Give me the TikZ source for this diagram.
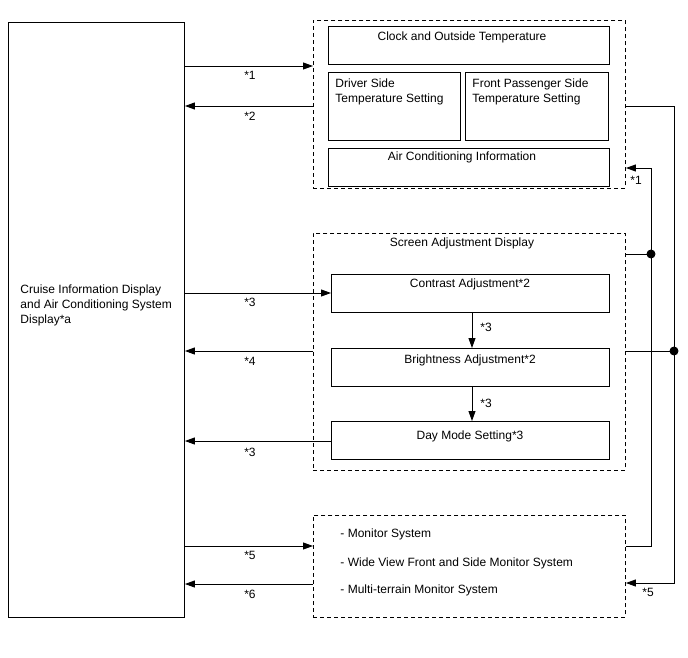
\documentclass[tikz,border=0pt]{standalone}
\usepackage{fontspec}
\setmainfont{Liberation Sans}
\usetikzlibrary{arrows.meta,calc}
\begin{document}
\begin{tikzpicture}[x=1pt,y=-1pt,
  font=\fontsize{12}{15}\selectfont,
  line width=0.9pt,
  box/.style={draw, rectangle, inner sep=0pt, anchor=north west},
  grp/.style={draw, rectangle, inner sep=0pt, anchor=north west, dash pattern=on 4pt off 3pt},
  arr/.style={-{Triangle[length=10pt,width=7pt]}},
  lbl/.style={inner sep=0pt},
  dotn/.style={circle, fill, draw, inner sep=0pt, minimum size=8pt}
]
\useasboundingbox (0,0) rectangle (688,658);
% left box
\node[box, minimum width=176pt, minimum height=595pt] (left) at (8,22) {};
\node[lbl, anchor=west, align=left] (lefttxt) at (20,305) {Cruise Information Display\\and Air Conditioning System\\Display*a};

% top group
\node[grp, minimum width=312pt, minimum height=168pt] (topg) at (313,20) {};
\node[box, minimum width=281pt, minimum height=38pt] (clock) at (328,26) {};
\node[lbl] (clocktxt) at (462,37) {Clock and Outside Temperature};
\node[box, minimum width=132pt, minimum height=68pt] (driver) at (328,72) {};
\node[lbl, anchor=north west, align=left] (drivertxt) at (335,78) {Driver Side\\Temperature Setting};
\node[box, minimum width=143pt, minimum height=68pt] (pass) at (465,72) {};
\node[lbl, anchor=north west, align=left] (passtxt) at (472,78) {Front Passenger Side\\Temperature Setting};
\node[box, minimum width=281pt, minimum height=38pt] (air) at (328,148) {};
\node[lbl] (airtxt) at (462,157) {Air Conditioning Information};

% screen adjustment group
\node[grp, minimum width=312pt, minimum height=237pt] (scrg) at (313,233) {};
\node[lbl] (scrtxt) at (462,243) {Screen Adjustment Display};
\node[box, minimum width=278pt, minimum height=38pt] (contrast) at (331,274) {};
\node[lbl] (contrasttxt) at (470,284) {Contrast Adjustment*2};
\node[box, minimum width=278pt, minimum height=38pt] (bright) at (331,348) {};
\node[lbl] (brighttxt) at (470,360) {Brightness Adjustment*2};
\node[box, minimum width=278pt, minimum height=38pt] (day) at (331,421) {};
\node[lbl] (daytxt) at (470,436) {Day Mode Setting*3};

% bottom group
\node[grp, minimum width=312pt, minimum height=102pt] (botg) at (313,515) {};
\node[lbl, anchor=west] (m1) at (340,534) {- Monitor System};
\node[lbl, anchor=west] (m2) at (340,563) {- Wide View Front and Side Monitor System};
\node[lbl, anchor=west] (m3) at (340,590) {- Multi-terrain Monitor System};

% left arrows
\draw[arr] (left.east |- 0,66) -- (topg.west |- 0,66);
\node[lbl] (l1) at (250,75) {*1};
\draw[arr] (topg.west |- 0,106) -- (left.east |- 0,106);
\node[lbl] (l2) at (250,116) {*2};
\draw[arr] (left.east |- 0,293) -- (contrast.west |- 0,293);
\node[lbl] (l3) at (250,302) {*3};
\draw[arr] (scrg.west |- 0,351) -- (left.east |- 0,351);
\node[lbl] (l4) at (250,361) {*4};
\draw[arr] (day.west |- 0,441) -- (left.east |- 0,441);
\node[lbl] (l5) at (250,452) {*3};
\draw[arr] (left.east |- 0,546) -- (botg.west |- 0,546);
\node[lbl] (l6) at (250,555) {*5};
\draw[arr] (botg.west |- 0,584) -- (left.east |- 0,584);
\node[lbl] (l7) at (250,594) {*6};

% internal arrows
\draw[arr] (contrast.south -| 472,0) -- (bright.north -| 472,0);
\node[lbl] (l8) at (486,327) {*3};
\draw[arr] (bright.south -| 472,0) -- (day.north -| 472,0);
\node[lbl] (l9) at (486,403) {*3};

% right wires
\coordinate (a1) at (674,106);
\coordinate (a2) at (674,583);
\draw[arr] (topg.east |- a1) -- (a1) -- (a2) -- (botg.east |- a2);
\node[lbl] (l10) at (648,592) {*5};
\coordinate (b1) at (651,546);
\coordinate (b2) at (651,168);
\draw[arr] (botg.east |- b1) -- (b1) -- (b2) -- (topg.east |- b2);
\node[lbl] (l11) at (636,180) {*1};
\node[dotn] (d1) at (651,254) {};
\draw (scrg.east |- d1) -- (d1);
\node[dotn] (d2) at (674,351) {};
\draw (scrg.east |- d2) -- (d2);
\end{tikzpicture}
\end{document}
